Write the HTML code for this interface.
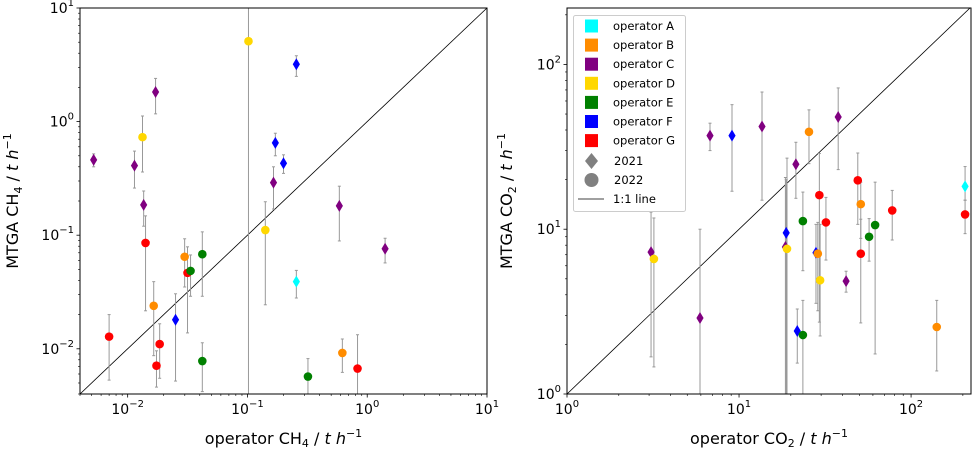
<!DOCTYPE html>
<html><head><meta charset="utf-8"><style>
html,body{margin:0;padding:0;background:#fff;overflow:hidden;width:974px;height:449px;font-family:"Liberation Sans","DejaVu Sans",sans-serif}
svg{display:block;overflow:hidden}
svg text{font-family:"DejaVu Sans","Liberation Sans",sans-serif}
</style></head><body>
<svg id="c" width="974" height="449" viewBox="0 0 974 449" xmlns="http://www.w3.org/2000/svg"></svg>
<script>
const colors={A:'#00ffff',B:'#ff8c00',C:'#800080',D:'#ffd700',E:'#008000',F:'#0000ff',G:'#ff0000'};
const ch4Ops=['C','C','D','C','C','G','B','G','G','G','F','B','G','E','E','E','D','D','F','F','F','C','A','C','C','B','G','E'];
const ch4Years=[2021,2021,2022,2021,2021,2022,2022,2022,2022,2022,2021,2022,2022,2022,2022,2022,2022,2022,2021,2021,2021,2021,2021,2021,2021,2022,2022,2022];
const ch4X=[0.0052,0.0114,0.0133,0.0171,0.0136,0.0141,0.0165,0.0070,0.0185,0.0174,0.0251,0.0299,0.0316,0.0335,0.042,0.042,0.102,0.141,0.256,0.171,0.20,0.165,0.256,0.585,1.41,0.62,0.83,0.32];
const ch4Y=[0.46,0.41,0.73,1.82,0.185,0.0855,0.0239,0.0128,0.011,0.0071,0.018,0.0646,0.0466,0.0485,0.068,0.0078,5.1,0.111,3.2,0.65,0.43,0.29,0.039,0.181,0.076,0.0092,0.0067,0.0057];
const ch4Hi=[0.52,0.55,1.12,2.4,0.245,0.148,0.039,0.020,0.0166,0.0096,0.0305,0.093,0.079,0.067,0.107,0.0113,20,0.197,3.8,0.79,0.51,0.40,0.049,0.27,0.094,0.0122,0.0133,0.0082];
const ch4Lo=[0.40,0.26,0.36,1.17,0.12,0.0216,0.0087,0.0053,0.0055,0.0046,0.0052,0.035,0.0138,0.029,0.029,0.0042,0.001,0.0244,2.5,0.50,0.35,0.17,0.028,0.089,0.057,0.0062,0.001,0.001];
const co2Ops=['C','D','C','C','F','C','F','C','D','C','F','E','E','B','F','B','D','G','G','C','C','G','B','G','E','E','G','B','A','G'];
const co2Years=[2021,2022,2021,2021,2021,2021,2021,2021,2022,2021,2021,2022,2022,2022,2021,2022,2022,2022,2022,2021,2021,2022,2022,2022,2022,2022,2022,2022,2021,2022];
const co2X=[3.08,3.2,5.93,6.78,9.1,13.6,18.8,18.6,19.0,21.4,21.8,23.5,23.5,25.5,28,28.7,29.6,29.3,32,41.9,37.7,49,51,51,57,61.8,77.7,141,206,206];
const co2Y=[7.26,6.6,2.89,37,37,42,9.5,7.8,7.6,24.8,2.41,2.28,11.2,39,7.2,7.1,4.9,16.1,11,4.84,48,19.8,14.2,7.1,9.0,10.6,13.0,2.55,18.2,12.3];
const co2Hi=[12.7,11.7,10.0,44,57,68,20,20.6,27,33.7,3.28,3.7,16.8,53,10.7,11,10.7,28.8,15.6,5.56,72,29,19.3,11.5,11.6,19.3,17.2,3.7,24,15];
const co2Lo=[1.68,1.46,0.1,30,17,15,0.1,0.1,0.1,15.4,1.54,0.1,5.6,25,3.55,3.2,2.25,2.73,6.5,4.15,23,10.7,8.8,2.7,6.4,1.75,8.6,1.38,15,9.4];

const NS='http://www.w3.org/2000/svg';
const svg=document.getElementById('c');
function mk(tag,attrs,parent){const e=document.createElementNS(NS,tag);for(const k in attrs)e.setAttribute(k,attrs[k]);(parent||svg).appendChild(e);return e;}
function logScale(d0,d1,p0,p1){const a=Math.log10(d0),b=Math.log10(d1);return v=>p0+(Math.log10(v)-a)/(b-a)*(p1-p0);}

function axes(o){
  const g=mk('g',{});
  
  
  const sx=logScale(o.xd[0],o.xd[1],o.x0,o.x1), sy=logScale(o.yd[0],o.yd[1],o.y1,o.y0);
  const clampY=p=>Math.max(o.y0,Math.min(o.y1,p));
  const clipId=o.name+'-clip';
  const cp=mk('clipPath',{id:clipId},g);mk('rect',{x:o.x0,y:o.y0,width:o.x1-o.x0,height:o.y1-o.y0},cp);
  const plot=mk('g',{'clip-path':'url(#'+clipId+')'},g);
  const lo=Math.max(o.xd[0],o.yd[0]),hi=Math.min(o.xd[1],o.yd[1]);
  const ln=mk('line',{x1:sx(lo),y1:sy(lo),x2:sx(hi),y2:sy(hi),stroke:'#000','stroke-width':0.8},plot);
  
  
  for(let i=0;i<o.xs.length;i++){
    const x=sx(o.xs[i]),yhr=sy(o.hi[i]),ylr=sy(o.lo[i]);
    const yh=clampY(yhr),yl=clampY(ylr);
    const eb=mk('g',{stroke:'#999','stroke-width':1},plot);
    
    
    mk('line',{x1:x,y1:yh,x2:x,y2:yl},eb);
    if(yhr>=o.y0)mk('line',{x1:x-1.5,y1:yh,x2:x+1.5,y2:yh},eb);
    if(ylr<=o.y1)mk('line',{x1:x-1.5,y1:yl,x2:x+1.5,y2:yl},eb);
  }
  for(let i=0;i<o.xs.length;i++){
    const x=sx(o.xs[i]),y=sy(o.ys[i]),c=colors[o.ops[i]];
    let m;
    if(o.yrs[i]===2021) m=mk('path',{d:`M${x},${y-6}L${x+3.6},${y}L${x},${y+6}L${x-3.6},${y}Z`,fill:c},plot);
    else m=mk('circle',{cx:x,cy:y,r:4.3,fill:c},plot);
    
    
  }
  mk('rect',{x:o.x0,y:o.y0,width:o.x1-o.x0,height:o.y1-o.y0,fill:'none',stroke:'#000','stroke-width':1},g);
  const ticks=(d,s,isX)=>{
    const e0=Math.floor(Math.log10(d[0])),e1=Math.ceil(Math.log10(d[1]));
    for(let e=e0;e<=e1;e++){
      for(let k=1;k<10;k++){
        const v=k*Math.pow(10,e); if(v<d[0]*0.999||v>d[1]*1.001)continue;
        const p=s(v),len=k===1?3.5:2;
        if(isX)mk('line',{x1:p,y1:o.y1,x2:p,y2:o.y1+len,stroke:'#000','stroke-width':k===1?0.8:0.6},g);
        else mk('line',{x1:o.x0,y1:p,x2:o.x0-len,y2:p,stroke:'#000','stroke-width':k===1?0.8:0.6},g);
        if(k===1){
          const t=mk('text',{'font-size':14,fill:'#000'},g);
          if(isX){t.setAttribute('x',p);t.setAttribute('y',o.y1+20);t.setAttribute('text-anchor','middle');}
          else{t.setAttribute('x',o.x0-6);t.setAttribute('y',p+5);t.setAttribute('text-anchor','end');}
          
          
          t.appendChild(document.createTextNode('10'));
          const ts=mk('tspan',{'font-size':10,dy:-7},t);ts.textContent=String(e).replace('-','\u2212');
        }
      }
    }
  };
  ticks(o.xd,sx,true);ticks(o.yd,sy,false);
  const xt=mk('text',{x:(o.x0+o.x1)/2,y:444,'text-anchor':'middle','font-size':16},g);
  
  xt.innerHTML='operator '+o.gas+'<tspan font-size="11" dy="3">'+o.sub+'</tspan><tspan dy="-3"> / </tspan><tspan font-style="italic">t h</tspan><tspan font-size="11" dy="-7">\u22121</tspan>';
  const cy=(o.y0+o.y1)/2;
  const yt=mk('text',{x:o.ytx,y:cy,'text-anchor':'middle','font-size':16,transform:`rotate(-90 ${o.ytx} ${cy})`},g);
  
  yt.innerHTML='MTGA '+o.gas+'<tspan font-size="11" dy="4">'+o.sub+'</tspan><tspan dy="-4"> / </tspan><tspan font-style="italic">t h</tspan><tspan font-size="11" dy="-7">\u22121</tspan>';
}
axes({name:'ch4-panel',x0:80,x1:487,y0:8,y1:394,xd:[0.004,10],yd:[0.004,10],xs:ch4X,ys:ch4Y,hi:ch4Hi,lo:ch4Lo,ops:ch4Ops,yrs:ch4Years,gas:'CH',sub:'4',ytx:18});
axes({name:'co2-panel',x0:567,x1:971,y0:8,y1:394,xd:[1,223],yd:[1,220],xs:co2X,ys:co2Y,hi:co2Hi,lo:co2Lo,ops:co2Ops,yrs:co2Years,gas:'CO',sub:'2',ytx:512});

const lg=mk('g',{});


mk('rect',{x:573.5,y:15.5,width:112,height:196,rx:2,fill:'#fff','fill-opacity':0.85,stroke:'#ccc'},lg);
const names=['A','B','C','D','E','F','G'];
names.forEach((n,i)=>{
  const y=26+i*19.1;
  const it=mk('g',{},lg);
  
  
  mk('rect',{x:585,y:y-6.5,width:13,height:13,fill:colors[n]},it);
  const t=mk('text',{x:613,y:y+4,'font-size':11.5},it);t.textContent='operator '+n;
});
const l21=mk('g',{},lg);
mk('path',{d:'M591.5,153L598,161L591.5,169L585,161Z',fill:'#808080'},l21);
mk('text',{x:614,y:165,'font-size':11.5},l21).textContent='2021';
const l22=mk('g',{},lg);
mk('circle',{cx:591.5,cy:180,r:7,fill:'#808080'},l22);
mk('text',{x:614,y:184,'font-size':11.5},l22).textContent='2022';
const l11=mk('g',{},lg);
mk('line',{x1:578,y1:199,x2:604,y2:199,stroke:'#000','stroke-width':0.8},l11);
mk('text',{x:613,y:203,'font-size':11.5},l11).textContent='1:1 line';
</script>
</body></html>
